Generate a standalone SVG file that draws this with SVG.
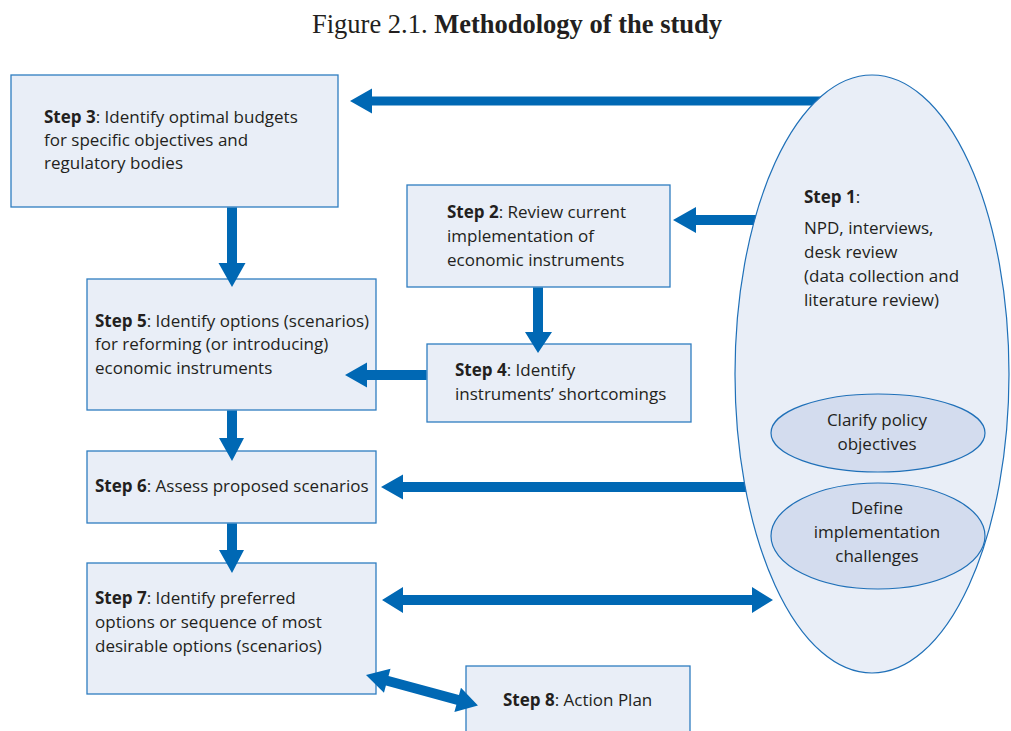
<svg xmlns="http://www.w3.org/2000/svg" width="1011" height="731" viewBox="0 0 1011 731">
<style>
.box{fill:#E9EEF7;stroke:#2F7DC1;stroke-width:1.3}
.arr{fill:#0068B4;stroke:none}
.t{font-family:"Open Sans","Noto Sans","Liberation Sans",sans-serif;font-size:17px;fill:#231F20}
.b{font-weight:bold}
.big{fill:#E9EEF7;stroke:#1F70B8;stroke-width:1.2}
.small{fill:#D3DCEE;stroke:#1F70B8;stroke-width:1.2}
.title{font-family:"Liberation Serif","Times New Roman",serif;font-size:26.5px;fill:#231F20}
</style>
<rect width="1011" height="731" fill="#FFFFFF"/>
<text class="title" x="517" y="33" text-anchor="middle">Figure 2.1. <tspan font-weight="bold">Methodology of the study</tspan></text>

<g id="step3">
<rect class="box" x="11" y="75" width="327" height="132"/>
<text class="t" x="44" y="123"><tspan class="b">Step 3</tspan>: Identify optimal budgets</text>
<text class="t" x="44" y="146">for specific objectives and</text>
<text class="t" x="44" y="169">regulatory bodies</text>
</g>
<g id="step2">
<rect class="box" x="407" y="185" width="263" height="102"/>
<text class="t" x="447" y="218"><tspan class="b">Step 2</tspan>: Review current</text>
<text class="t" x="447" y="242">implementation of</text>
<text class="t" x="447" y="266">economic instruments</text>
</g>
<g id="step5">
<rect class="box" x="87" y="279" width="289" height="131"/>
<text class="t" x="95" y="327"><tspan class="b">Step 5</tspan>: Identify options (scenarios)</text>
<text class="t" x="95" y="350">for reforming (or introducing)</text>
<text class="t" x="95" y="374">economic instruments</text>
</g>
<g id="step4">
<rect class="box" x="427" y="344" width="264" height="78"/>
<text class="t" x="455" y="376"><tspan class="b">Step 4</tspan>: Identify</text>
<text class="t" x="455" y="400">instruments’ shortcomings</text>
</g>
<g id="step6">
<rect class="box" x="87" y="451" width="289" height="72"/>
<text class="t" x="95" y="492"><tspan class="b">Step 6</tspan>: Assess proposed scenarios</text>
</g>
<g id="step7">
<rect class="box" x="87" y="563" width="289" height="131"/>
<text class="t" x="95" y="604"><tspan class="b">Step 7</tspan>: Identify preferred</text>
<text class="t" x="95" y="628">options or sequence of most</text>
<text class="t" x="95" y="652">desirable options (scenarios)</text>
</g>
<g id="step8">
<rect class="box" x="466" y="666" width="224" height="80"/>
<text class="t" x="503" y="706"><tspan class="b">Step 8</tspan>: Action Plan</text>
</g>

<g id="connectors">
<!-- Step1 -> Step3 -->
<polygon class="arr" points="350,101 372,88.5 372,96.5 840,96.5 840,105.5 372,105.5 372,113.5"/>
<!-- Step1 -> Step2 -->
<polygon class="arr" points="673,220 696,207 696,215 780,215 780,225 696,225 696,233"/>
<!-- Step3 -> Step5 -->
<polygon class="arr" points="227,207.5 237,207.5 237,263 245.5,263 232,287 218.5,263 227,263"/>
<!-- Step2 -> Step4 -->
<polygon class="arr" points="533,287.5 543,287.5 543,332 552,332 538,353 525,332 533,332"/>
<!-- Step4 -> Step5 -->
<polygon class="arr" points="345,375 367,362.5 367,370 426.5,370 426.5,380 367,380 367,387.5"/>
<!-- Step5 -> Step6 -->
<polygon class="arr" points="227,410.5 237,410.5 237,438 244,438 232,461 219,438 227,438"/>
<!-- Step1 -> Step6 -->
<polygon class="arr" points="381,487 403,474.5 403,482 780,482 780,492 403,492 403,499.5"/>
<!-- Step6 -> Step7 -->
<polygon class="arr" points="227,523.5 237,523.5 237,550 244,550 232,573 219,550 227,550"/>
<!-- Step7 <-> Step1 -->
<polygon class="arr" points="382,600 403,587 403,595 752,595 752,587 773,600 752,613 752,605 403,605 403,613"/>
<!-- Step7 <-> Step8 -->
<g transform="translate(366,675) rotate(15.2)">
<polygon class="arr" points="0,0 22,-12.5 22,-5 95,-5 95,-12.5 116,0 95,12.5 95,5 22,5 22,12.5"/>
</g>
</g>

<g id="step1">
<ellipse class="big" cx="872" cy="374" rx="137" ry="299"/>
<text class="t" x="804" y="203"><tspan class="b">Step 1</tspan>:</text>
<text class="t" x="804" y="234">NPD, interviews,</text>
<text class="t" x="804" y="258">desk review</text>
<text class="t" x="804" y="282">(data collection and</text>
<text class="t" x="804" y="306">literature review)</text>
</g>
<g id="clarify">
<ellipse class="small" cx="878" cy="433" rx="107" ry="39"/>
<text class="t" x="877" y="426" text-anchor="middle">Clarify policy</text>
<text class="t" x="877" y="450" text-anchor="middle">objectives</text>
</g>
<g id="define">
<ellipse class="small" cx="878" cy="536" rx="107" ry="53"/>
<text class="t" x="877" y="514" text-anchor="middle">Define</text>
<text class="t" x="877" y="538" text-anchor="middle">implementation</text>
<text class="t" x="877" y="562" text-anchor="middle">challenges</text>
</g>
</svg>
